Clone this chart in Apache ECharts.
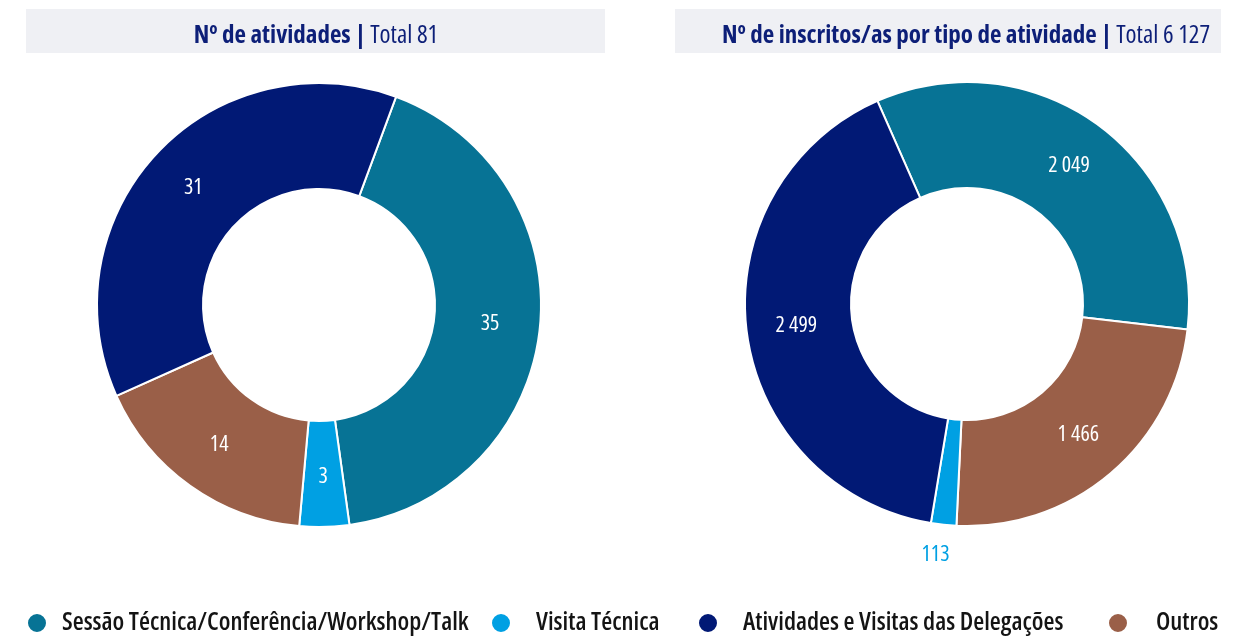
<!DOCTYPE html>
<html lang="pt">
<head>
<meta charset="utf-8">
<title>Atividades e inscritos/as por tipo de atividade</title>
<script src="https://cdn.jsdelivr.net/npm/echarts@6/dist/echarts.min.js"></script>
<style>
  html, body { margin: 0; padding: 0; background: #ffffff; }
  #chart { width: 1240px; height: 636px; }
</style>
</head>
<body>
<div id="chart"></div>
<script>
// Activity types, in legend order
const categories = [
  'Sessão Técnica/Conferência/Workshop/Talk',
  'Visita Técnica',
  'Atividades e Visitas das Delegações',
  'Outros'
];

// Number of activities per type (legend order)
const activityCounts = [35, 3, 31, 14];

// Number of enrolled people per type (legend order)
const enrolmentCounts = [2049, 113, 2499, 1466];

// Totals as published in the panel headers
const activityTotal = 81;
const enrolmentTotal = 6127;

// Order in which the slices run clockwise around each ring
const activitySliceOrder = [0, 1, 3, 2];
const enrolmentSliceOrder = [0, 3, 1, 2];

// Colour of each activity type (legend order)
const typeColors = ['#077395', '#00a0e3', '#011975', '#9a5f48'];

const FONT = '"Open Sans", "Noto Sans", sans-serif';
const STRETCH = 'semi-condensed';
const NAVY_TEXT = '#0d1f78';

// "6127" -> "6 127"
function fmt(n) {
  return String(n).replace(/\B(?=(\d{3})+(?!\d))/g, ' ');
}

function buildSlices(values, order, outsideIndex) {
  return order.map(function (i) {
    const item = {
      name: categories[i],
      value: values[i],
      itemStyle: { color: typeColors[i] }
    };
    if (i === outsideIndex) {
      item.label = {
        position: 'outside',
        color: typeColors[i]
      };
      item.labelLine = { show: false, length: 30, length2: 0 };
    }
    return item;
  });
}

const chart = echarts.init(document.getElementById('chart'), null, { renderer: 'canvas' });

const ringLabel = {
  show: true,
  position: 'inside',
  color: '#ffffff',
  fontFamily: FONT,
  fontStyle: STRETCH,
  fontSize: 22,
  formatter: function (p) { return fmt(p.value); }
};

function headerText(x, bold, rest) {
  return {
    type: 'text',
    x: x,
    y: 36,
    style: {
      text: '{b|' + bold + '}{r|' + rest + '}',
      align: 'center',
      verticalAlign: 'middle',
      rich: {
        b: { fontFamily: FONT, fontStyle: STRETCH, fontSize: 25, fontWeight: 'bold', fill: NAVY_TEXT, color: NAVY_TEXT },
        r: { fontFamily: FONT, fontStyle: STRETCH, fontSize: 25, fontWeight: 'normal', fill: NAVY_TEXT, color: NAVY_TEXT }
      }
    }
  };
}

function legendFor(index, left, gap) {
  return {
    data: [categories[index]],
    left: left,
    top: 603,
    padding: 0,
    icon: 'circle',
    itemWidth: 20,
    itemHeight: 20,
    selectedMode: false,
    textStyle: {
      fontFamily: FONT,
      fontStyle: STRETCH,
      fontWeight: 600,
      fontSize: 25.2,
      lineHeight: 28,
      color: '#141414',
      padding: [12, 0, 0, gap]
    }
  };
}

const option = {
  animation: false,
  backgroundColor: '#ffffff',
  graphic: [
    { type: 'rect', shape: { x: 26, y: 9, width: 579, height: 44 }, style: { fill: '#eff0f4' } },
    { type: 'rect', shape: { x: 675, y: 9, width: 546, height: 44 }, style: { fill: '#eff0f4' } },
    headerText(316, 'Nº de atividades |', ' Total ' + fmt(activityTotal)),
    headerText(966, 'Nº de inscritos/as por tipo de atividade |', ' Total ' + fmt(enrolmentTotal))
  ],
  legend: [
    legendFor(0, 26, 10),
    legendFor(1, 490, 20),
    legendFor(2, 697, 20),
    legendFor(3, 1107, 23)
  ],
  series: [
    {
      name: 'Nº de atividades',
      type: 'pie',
      center: [319, 305],
      radius: [116, 222],
      startAngle: 69.7,
      clockwise: true,
      avoidLabelOverlap: false,
      itemStyle: { borderColor: '#ffffff', borderWidth: 2 },
      label: ringLabel,
      labelLine: { show: false },
      emphasis: { disabled: true },
      data: buildSlices(activityCounts, activitySliceOrder, -1)
    },
    {
      name: 'Nº de inscritos/as',
      type: 'pie',
      center: [967, 304],
      radius: [116, 222],
      startAngle: 113.8,
      clockwise: true,
      avoidLabelOverlap: false,
      itemStyle: { borderColor: '#ffffff', borderWidth: 2 },
      label: ringLabel,
      labelLine: { show: false },
      labelLayout: function (p) {
        if (p.dataIndex === 2) { return { align: 'center' }; }
        return {};
      },
      emphasis: { disabled: true },
      data: buildSlices(enrolmentCounts, enrolmentSliceOrder, 1)
    }
  ]
};

chart.setOption(option);
</script>
</body>
</html>
